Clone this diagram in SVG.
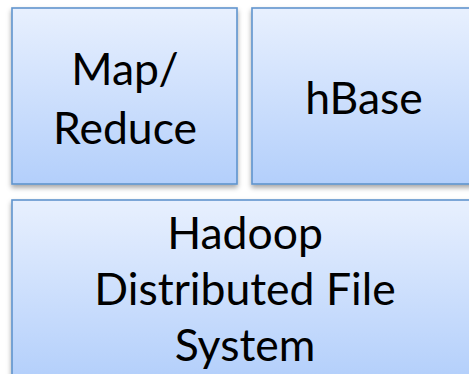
<svg xmlns="http://www.w3.org/2000/svg" width="469" height="374" viewBox="0 0 469 374">
  <defs>
    <linearGradient id="fillTop" x1="0" y1="0" x2="0" y2="1">
      <stop offset="0" stop-color="#E8F0FE"/>
      <stop offset="1" stop-color="#B3CFFB"/>
    </linearGradient>
    <filter id="shadow" x="-10%" y="-10%" width="120%" height="125%">
      <feDropShadow dx="0" dy="3" stdDeviation="2.5" flood-color="#000" flood-opacity="0.35"/>
    </filter>
    <style>
      .box { fill: url(#fillTop); stroke: #6094CE; stroke-width: 1.6; filter: url(#shadow); }
      .label { font-family: Lato, "Open Sans", "Liberation Sans", sans-serif; font-size: 44.5px; fill: #000; text-anchor: middle; }
    </style>
  </defs>
  <rect width="469" height="374" fill="#FFFFFF"/>

  <!-- upper row: two side-by-side blocks -->
  <g id="map-reduce">
    <rect class="box" x="12" y="8" width="225" height="176"/>
    <text class="label" x="125" y="85">Map/</text>
    <text class="label" x="125" y="144">Reduce</text>
  </g>

  <g id="hbase">
    <rect class="box" x="252" y="8" width="225" height="176"/>
    <text class="label" x="364" y="114">hBase</text>
  </g>

  <!-- lower row: full-width base block -->
  <g id="hdfs">
    <rect class="box" x="12" y="200" width="465" height="180"/>
    <text class="label" x="245" y="249">Hadoop</text>
    <text class="label" x="245" y="305">Distributed File</text>
    <text class="label" x="245" y="361">System</text>
  </g>

  <g id="connectors"></g>
</svg>
